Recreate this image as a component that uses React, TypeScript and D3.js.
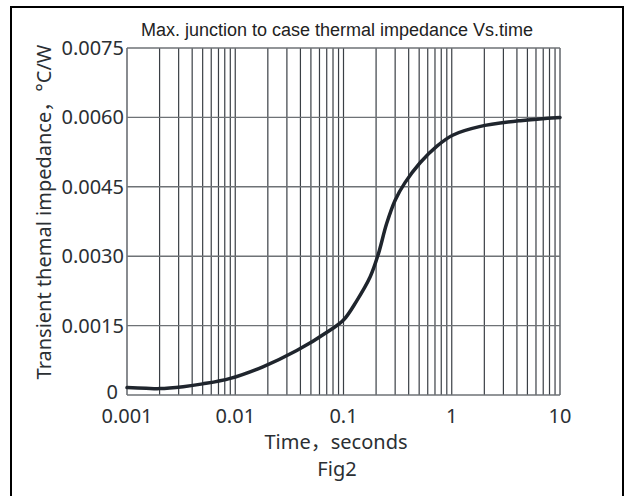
import * as d3 from "d3";
import { useEffect, useRef } from "react";

// curve: time (s) and impedance (°C/W)
const times = [0.001, 0.0015, 0.002, 0.0033, 0.005, 0.009, 0.018, 0.037, 0.075, 0.1, 0.132, 0.176, 0.21, 0.25, 0.3, 0.37, 0.51, 0.73, 1.03, 1.8, 4.3, 10];
const impedance = [0.00016, 0.000145, 0.000138, 0.00018, 0.00024, 0.00036, 0.00061, 0.00096, 0.0014, 0.00162, 0.00203, 0.00255, 0.00305, 0.0037, 0.00421, 0.00459, 0.00502, 0.00538, 0.00562, 0.0058, 0.00593, 0.006];

const yTicks = [0, 0.0015, 0.003, 0.0045, 0.006, 0.0075];
const yTickLabels = ["0", "0.0015", "0.0030", "0.0045", "0.0060", "0.0075"];
const xTicks = [0.001, 0.01, 0.1, 1, 10];
const xTickLabels = ["0.001", "0.01", "0.1", "1", "10"];

const chartTitle = "Max. junction to case thermal impedance Vs.time";
const yTitle = "Transient themal impedance，°C/W";
const xTitle = "Time，seconds";
const figLabel = "Fig2";

export default function App() {
    const ref = useRef<SVGSVGElement>(null);

    useEffect(() => {
        const svg = d3.select(ref.current);
        svg.selectAll("*").remove();

        const width = 625;
        const height = 496;
        const margin = { top: 48, right: 65, bottom: 101, left: 127 };
        const font = "'Noto Sans', 'Noto Sans CJK SC', sans-serif";

        // outer frame, bottom edge runs off the page
        svg
            .append("rect")
            .attr("x", 11)
            .attr("y", 7)
            .attr("width", 612)
            .attr("height", 500)
            .attr("fill", "white")
            .attr("stroke", "#000")
            .attr("stroke-width", 2);

        const x = d3
            .scaleLog()
            .domain([0.001, 10])
            .range([margin.left, width - margin.right]);

        const y = d3
            .scaleLinear()
            .domain([0, 0.0075])
            .range([height - margin.bottom, margin.top]);

        // vertical grid at every decade step
        const gridX: number[] = [];
        for (let e = -3; e < 1; e++) {
            for (let k = 1; k <= 9; k++) gridX.push(k * Math.pow(10, e));
        }
        gridX.push(10);

        svg
            .append("g")
            .selectAll("line")
            .data(gridX)
            .enter()
            .append("line")
            .attr("x1", (d) => x(d))
            .attr("x2", (d) => x(d))
            .attr("y1", y(0))
            .attr("y2", y(0.0075))
            .attr("stroke", "#3a3f45")
            .attr("stroke-width", 1.2);

        svg
            .append("g")
            .selectAll("line")
            .data(yTicks)
            .enter()
            .append("line")
            .attr("x1", x(0.001))
            .attr("x2", x(10))
            .attr("y1", (d) => y(d))
            .attr("y2", (d) => y(d))
            .attr("stroke", "#6e7276")
            .attr("stroke-width", 1.4);

        // y tick labels
        svg
            .append("g")
            .selectAll("text")
            .data(yTicks)
            .enter()
            .append("text")
            .attr("x", (d) => (d === 0 ? margin.left - 9 : margin.left - 3))
            .attr("y", (d) => y(d) + (d === 0 ? 4 : 7))
            .attr("text-anchor", "end")
            .attr("font-family", font)
            .attr("font-size", 20)
            .attr("fill", "#2b2f33")
            .text((d, i) => yTickLabels[i]);

        // x tick labels
        svg
            .append("g")
            .selectAll("text")
            .data(xTicks)
            .enter()
            .append("text")
            .attr("x", (d) => x(d))
            .attr("y", y(0) + 28)
            .attr("text-anchor", "middle")
            .attr("font-family", font)
            .attr("font-size", 20)
            .attr("fill", "#2b2f33")
            .text((d, i) => xTickLabels[i]);

        const line = d3
            .line<number>()
            .x((d, i) => x(times[i]))
            .y((d) => y(d))
            .curve(d3.curveCatmullRom.alpha(0.5));

        svg
            .append("path")
            .datum(impedance)
            .attr("d", line)
            .attr("fill", "none")
            .attr("stroke", "#1f252d")
            .attr("stroke-width", 3.5)
            .attr("stroke-linecap", "round");

        svg
            .append("text")
            .attr("x", 337)
            .attr("y", 36)
            .attr("text-anchor", "middle")
            .attr("font-family", "'Liberation Sans', Arial, sans-serif")
            .attr("font-size", 18)
            .attr("fill", "#222")
            .text(chartTitle);

        svg
            .append("text")
            .attr("transform", `translate(51, 212) rotate(-90)`)
            .attr("text-anchor", "middle")
            .attr("font-family", font)
            .attr("font-size", 20)
            .attr("fill", "#2b2f33")
            .text(yTitle);

        svg
            .append("text")
            .attr("x", 336)
            .attr("y", 449)
            .attr("text-anchor", "middle")
            .attr("font-family", font)
            .attr("font-size", 20)
            .attr("fill", "#2b2f33")
            .text(xTitle);

        svg
            .append("text")
            .attr("x", 337)
            .attr("y", 476)
            .attr("text-anchor", "middle")
            .attr("font-family", font)
            .attr("font-size", 20)
            .attr("fill", "#2b2f33")
            .text(figLabel);
    }, []);

    return (
        <svg
            ref={ref}
            width={625}
            height={496}
            style={{ position: "absolute", left: 0, top: 0 }}
        ></svg>
    );
}
